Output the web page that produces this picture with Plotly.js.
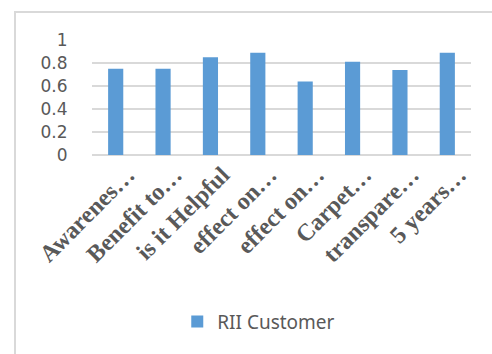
<!DOCTYPE html>
<html>
<head>
<meta charset="utf-8">
<script src="https://cdn.plot.ly/plotly-3.0.1.min.js"></script>
<style>
html,body{margin:0;padding:0;background:#fff;}
#wrap{position:relative;width:492px;height:354px;overflow:hidden;}
#chart{position:absolute;left:0;top:0;width:492px;height:354px;}
#frame{position:absolute;left:14px;top:11px;width:600px;height:500px;border-top:2px solid #d9d9d9;border-left:2px solid #d9d9d9;pointer-events:none;}
</style>
</head>
<body>
<div id="wrap"><div id="chart"></div><div id="frame"></div></div>
<script>
const categories = ["Awarenes…", "Benefit to…", "is it Helpful", "effect on…", "effect on…", "Carpet…", "transpare…", "5 years…"];
const categoryKeys = ["c1", "c2", "c3", "c4", "c5", "c6", "c7", "c8"];
const rii = [0.75, 0.75, 0.85, 0.89, 0.64, 0.81, 0.74, 0.89];
const yTicks = [0, 0.2, 0.4, 0.6, 0.8, 1];
const yTickLabels = ["0", "0.2", "0.4", "0.6", "0.8", "1"];
const seriesName = "RII Customer";

const data = [{
  type: "bar",
  x: categoryKeys,
  y: rii,
  name: seriesName,
  marker: {color: "#5b9bd5"},
  hoverinfo: "none"
}];

const layout = {
  width: 492,
  height: 354,
  margin: {l: 92, r: 21, t: 40, b: 199},
  paper_bgcolor: "rgba(0,0,0,0)",
  plot_bgcolor: "rgba(0,0,0,0)",
  bargap: 0.68,
  showlegend: true,
  legend: {
    orientation: "h",
    x: 0.44, xanchor: "center",
    y: -1.45, yanchor: "middle",
    font: {family: "Noto Sans, Open Sans, sans-serif", size: 19, color: "#595959"}
  },
  xaxis: {
    type: "category",
    tickvals: categoryKeys,
    ticktext: categories,
    tickangle: -45,
    tickfont: {family: "Liberation Serif, Times New Roman, serif", size: 24, color: "#595959", weight: "bold"},
    ticklabelshift: 12,
    showgrid: false,
    showline: false,
    zeroline: false,
    ticks: "",
    fixedrange: true
  },
  yaxis: {
    range: [0, 1],
    tickmode: "array",
    tickvals: yTicks,
    ticktext: yTickLabels,
    tickfont: {family: "DejaVu Sans, sans-serif", size: 17, color: "#595959"},
    showgrid: true,
    gridcolor: "#d9d9d9",
    gridwidth: 1.5,
    zeroline: true,
    zerolinecolor: "#d9d9d9",
    zerolinewidth: 1.5,
    showline: false,
    ticks: "outside",
    ticklen: 20,
    tickwidth: 1,
    tickcolor: "rgba(255,255,255,0)",
    fixedrange: true
  }
};

Plotly.newPlot("chart", data, layout, {staticPlot: true, displayModeBar: false});
</script>
</body>
</html>
